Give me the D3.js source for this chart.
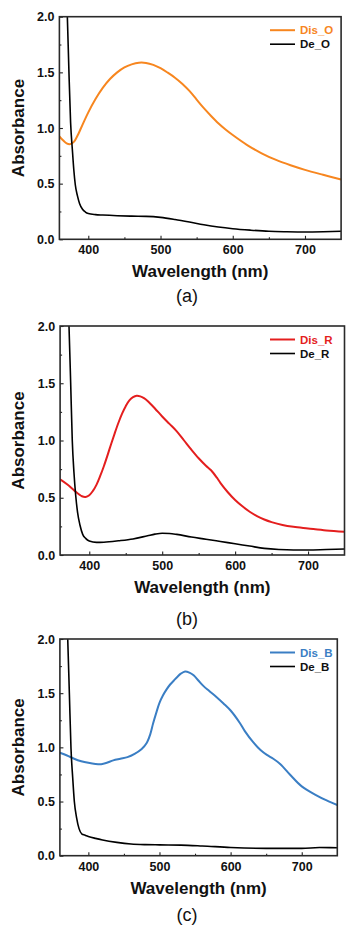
<!DOCTYPE html>
<html><head><meta charset="utf-8">
<script src="https://cdn.jsdelivr.net/npm/d3@7"></script>
<style>
body{margin:0;background:#fff;}
svg{display:block;font-family:"Liberation Sans",Arial,sans-serif;}
</style></head>
<body>
<svg id="chart" width="356" height="929"></svg>
<script>
// ---- data ----
const xTicks = [400, 500, 600, 700];
const xMinor = [450, 550, 650];
const yTicks = [0.0, 0.5, 1.0, 1.5, 2.0];
const yMinor = [0.25, 0.75, 1.25, 1.75];
const panelCaptions = ["(a)", "(b)", "(c)"];
const seriesNames = [["Dis_O", "De_O"], ["Dis_R", "De_R"], ["Dis_B", "De_B"]];

const wlDisO = [360,365,370,375,380,385,390,400,410,420,430,440,450,460,470,480,490,500,510,520,530,540,550,560,570,580,590,600,620,640,660,680,700,725,750];
const absDisO = [0.925,0.89,0.862,0.855,0.875,0.93,1.0,1.14,1.26,1.36,1.44,1.50,1.545,1.572,1.587,1.585,1.567,1.537,1.497,1.452,1.398,1.333,1.255,1.178,1.108,1.043,0.987,0.937,0.847,0.773,0.713,0.665,0.624,0.58,0.538];

const wlDeO = [360,365,368,371,373,375.5,378,380,382,385,388,392,396,400,410,420,440,460,480,500,520,540,560,580,600,625,650,675,700,725,750];
const absDeO = [3.6,2.8,2.4,2.0,1.55,1.05,0.8,0.62,0.49,0.39,0.32,0.27,0.245,0.232,0.222,0.218,0.212,0.208,0.206,0.197,0.178,0.155,0.13,0.11,0.095,0.082,0.072,0.068,0.066,0.068,0.072];

const wlDisR = [360,370,380,390,395,400,405,410,415,420,425,430,435,440,445,450,455,460,465,470,475,480,490,500,510,520,530,540,550,560,567,575,580,590,600,610,620,630,640,650,665,680,700,725,750];
const absDisR = [0.66,0.615,0.56,0.513,0.507,0.522,0.56,0.615,0.69,0.775,0.87,0.97,1.065,1.155,1.235,1.30,1.35,1.378,1.39,1.385,1.37,1.345,1.28,1.21,1.145,1.08,1.00,0.92,0.845,0.78,0.74,0.675,0.628,0.548,0.48,0.425,0.378,0.34,0.31,0.287,0.262,0.246,0.232,0.215,0.204];

const wlDeR = [360,366,372.2,374.5,376.7,379,381.4,384,387.3,391,395,400,410,420,440,460,480,490,500,510,520,540,560,580,600,620,640,660,680,700,725,750];
const absDeR = [3.6,2.7,2.0,1.5,1.0,0.72,0.52,0.37,0.26,0.18,0.145,0.122,0.11,0.112,0.124,0.14,0.168,0.182,0.19,0.188,0.18,0.157,0.138,0.118,0.098,0.078,0.058,0.048,0.044,0.044,0.048,0.052];

const wlDisB = [360,370,380,390,400,410,418,425,435,445,455,465,475,482,487,491,496,500,505,510,515,520,525,530,536,542,548,555,562,570,580,590,600,613,620,632,642,651,660,670,684,700,720,735,750];
const absDisB = [0.95,0.925,0.895,0.872,0.857,0.847,0.845,0.855,0.88,0.895,0.91,0.94,0.985,1.04,1.12,1.22,1.33,1.41,1.48,1.535,1.58,1.615,1.65,1.68,1.70,1.69,1.665,1.615,1.565,1.52,1.465,1.405,1.34,1.225,1.15,1.045,0.975,0.93,0.895,0.845,0.745,0.64,0.56,0.51,0.468];

const wlDeB = [360,366,371,373.3,375.6,378,380.3,383.5,386.9,391,395,400,410,420,440,460,480,500,530,560,600,650,700,725,750];
const absDeB = [3.6,2.7,2.0,1.5,0.99,0.72,0.5,0.35,0.25,0.2,0.19,0.178,0.16,0.145,0.123,0.108,0.102,0.1,0.098,0.09,0.076,0.068,0.068,0.075,0.074];

const dataSets = [
  [[wlDisO, absDisO], [wlDeO, absDeO]],
  [[wlDisR, absDisR], [wlDeR, absDeR]],
  [[wlDisB, absDisB], [wlDeB, absDeB]]
];

// ---- layout / style ----
const colors = [["#F7861F", "#000000"], ["#E41E1E", "#000000"], ["#3A7EC4", "#000000"]];
const widths = [2.0, 1.6];
const panels = [
  {x0: 59.4, x1: 341.1, y0: 16.7, y1: 239.3, cap: 302},
  {x0: 60.1, x1: 344.5, y0: 326, y1: 555, cap: 625},
  {x0: 59.9, x1: 337.3, y0: 639, y1: 855.7, cap: 921}
];

const svg = d3.select("#chart");

panels.forEach((p, i) => {
  const x = d3.scaleLinear().domain([360, 750]).range([p.x0, p.x1]);
  const y = d3.scaleLinear().domain([0, 2]).range([p.y1, p.y0]);
  const g = svg.append("g");

  const clipId = "clip" + i;
  svg.append("clipPath").attr("id", clipId).append("rect")
    .attr("x", p.x0).attr("y", p.y0).attr("width", p.x1 - p.x0).attr("height", p.y1 - p.y0);

  const curves = [d3.curveCatmullRom.alpha(0.5), d3.curveMonotoneX];
  const lg = g.append("g").attr("clip-path", `url(#${clipId})`);
  dataSets[i].forEach((s, j) => {
    const line = d3.line().x(d => x(d[0])).y(d => y(d[1])).curve(curves[j]);
    const pts = s[0].map((w, k) => [w, s[1][k]]);
    lg.append("path").attr("d", line(pts)).attr("fill", "none")
      .attr("stroke", colors[i][j]).attr("stroke-width", widths[j])
      .attr("stroke-linejoin", "round");
  });

  // axes
  g.append("g").attr("transform", `translate(0,${p.y1})`)
    .call(d3.axisBottom(x).tickValues(xTicks).tickSize(-3.5).tickPadding(6).tickFormat(d3.format("d")));
  g.append("g").attr("transform", `translate(0,${p.y1})`)
    .call(d3.axisBottom(x).tickValues(xMinor).tickSize(-2).tickFormat(""));
  g.append("g").attr("transform", `translate(${p.x0},0)`)
    .call(d3.axisLeft(y).tickValues(yTicks).tickSize(-3.5).tickPadding(5).tickFormat(d3.format(".1f")));
  g.append("g").attr("transform", `translate(${p.x0},0)`)
    .call(d3.axisLeft(y).tickValues(yMinor).tickSize(-2).tickFormat(""));
  g.selectAll(".domain").remove();
  g.selectAll(".tick line").attr("stroke", "#222").attr("stroke-width", 1.1);
  g.selectAll(".tick text").attr("font-size", 12.5).attr("font-weight", "bold")
    .attr("fill", "#111").attr("font-family", "Liberation Sans, Arial, sans-serif");

  // frame
  g.append("rect").attr("x", p.x0).attr("y", p.y0)
    .attr("width", p.x1 - p.x0).attr("height", p.y1 - p.y0)
    .attr("fill", "none").attr("stroke", "#2a2a2a").attr("stroke-width", 1.6);

  // axis titles
  g.append("text").attr("x", (p.x0 + p.x1) / 2).attr("y", p.y1 + 38)
    .attr("text-anchor", "middle").attr("font-size", 17).attr("font-weight", "bold")
    .attr("fill", "#111").text("Wavelength (nm)");
  g.append("text").attr("transform", `translate(24,${(p.y0 + p.y1) / 2}) rotate(-90)`)
    .attr("text-anchor", "middle").attr("font-size", 17).attr("font-weight", "bold")
    .attr("fill", "#111").text("Absorbance");

  // legend
  seriesNames[i].forEach((n, j) => {
    const ly = p.y0 + 13.5 + j * 14;
    g.append("line").attr("x1", 270).attr("x2", 295).attr("y1", ly).attr("y2", ly)
      .attr("stroke", colors[i][j]).attr("stroke-width", widths[j]);
    g.append("text").attr("x", 300).attr("y", ly).attr("dy", "0.36em")
      .attr("font-size", 11.5).attr("font-weight", "bold")
      .attr("fill", j === 0 ? colors[i][0] : "#111").text(n);
  });

  // caption
  g.append("text").attr("x", 187).attr("y", p.cap).attr("text-anchor", "middle")
    .attr("font-size", 18).attr("fill", "#111").text(panelCaptions[i]);
});
</script>
</body></html>
